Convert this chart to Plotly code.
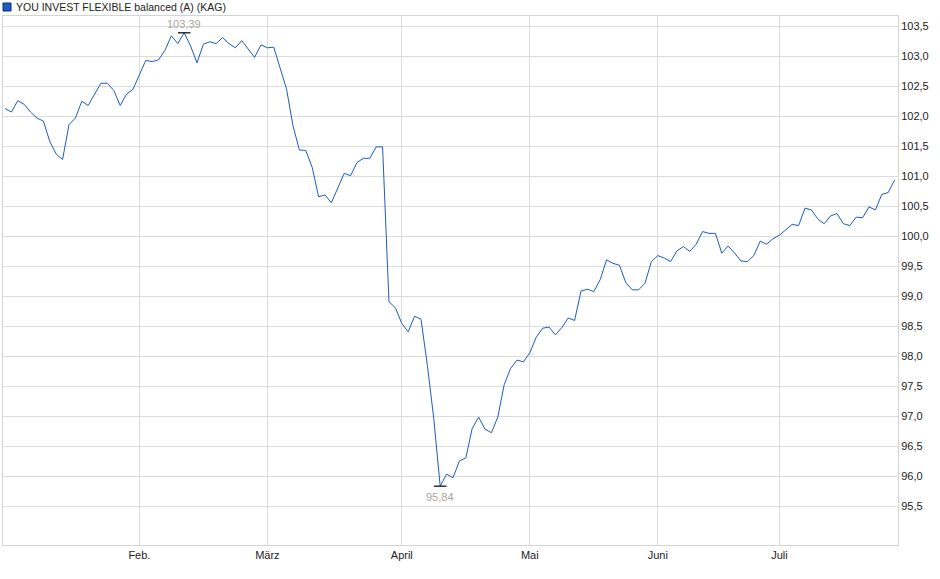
import plotly.graph_objects as go

# Kursverlauf (Handelstage Jan. - Juli)
values = [
    102.13, 102.07, 102.26, 102.20, 102.07, 101.97, 101.92, 101.58, 101.37, 101.28,
    101.86, 101.97, 102.25, 102.18, 102.37, 102.55, 102.55, 102.43, 102.18, 102.37,
    102.45, 102.70, 102.93, 102.91, 102.94, 103.10, 103.34, 103.21, 103.39, 103.17,
    102.89, 103.20, 103.24, 103.21, 103.31, 103.21, 103.14, 103.26, 103.12, 102.98,
    103.19, 103.14, 103.15, 102.78, 102.45, 101.84, 101.44, 101.43, 101.15, 100.66,
    100.69, 100.56, 100.80, 101.05, 101.01, 101.23, 101.30, 101.30, 101.49, 101.49,
    98.91, 98.81, 98.55, 98.41, 98.67, 98.62, 97.85, 96.96, 95.84, 96.04,
    95.98, 96.26, 96.31, 96.80, 96.99, 96.79, 96.73, 96.99, 97.53, 97.80,
    97.94, 97.91, 98.06, 98.32, 98.47, 98.49, 98.36, 98.48, 98.64, 98.60,
    99.09, 99.12, 99.08, 99.28, 99.61, 99.55, 99.52, 99.23, 99.11, 99.11,
    99.22, 99.58, 99.68, 99.64, 99.58, 99.76, 99.83, 99.75, 99.87, 100.08,
    100.05, 100.05, 99.72, 99.84, 99.72, 99.59, 99.58, 99.68, 99.92, 99.87,
    99.96, 100.02, 100.11, 100.20, 100.18, 100.47, 100.44, 100.29, 100.21, 100.34,
    100.38, 100.21, 100.18, 100.32, 100.31, 100.49, 100.44, 100.70, 100.73, 100.94,
]
days = list(range(len(values)))

# erster Handelstag je Monat
month_labels = ['Feb.', 'März', 'April', 'Mai', 'Juni', 'Juli']
month_start = [21, 41, 62, 82, 102, 121]

y_ticks = [95.5 + 0.5 * k for k in range(17)]

name = 'YOU INVEST FLEXIBLE balanced (A) (KAG)'
blue = '#1c5bc2'

i_max = values.index(max(values))
i_min = values.index(min(values))

fig = go.Figure()
fig.add_trace(go.Scatter(x=days, y=values, mode='lines', name=name,
                         line=dict(color=blue, width=1), showlegend=False))
# Markierung Hoch/Tief
fig.add_trace(go.Scatter(x=[i_max, i_min], y=[values[i_max], values[i_min]], mode='markers',
                         marker=dict(symbol='line-ew', size=9, line=dict(color='black', width=1.2)),
                         showlegend=False, hoverinfo='skip'))

fig.add_annotation(x=i_max, y=values[i_max], text=f'{values[i_max]:.2f}'.replace('.', ','),
                   showarrow=False, yshift=9, font=dict(size=11, color='#aaa498'))
fig.add_annotation(x=i_min, y=values[i_min], text=f'{values[i_min]:.2f}'.replace('.', ','),
                   showarrow=False, yshift=-11, font=dict(size=11, color='#aaa498'))

# Legende oben links
fig.add_shape(type='rect', xref='paper', yref='paper', xsizemode='pixel', ysizemode='pixel',
              xanchor=0, yanchor=1, x0=0, x1=8, y0=5, y1=13,
              fillcolor=blue, line=dict(color='#0c2a70', width=1))
fig.add_annotation(xref='paper', yref='paper', x=0, y=1, xshift=11, yshift=9,
                   xanchor='left', yanchor='middle', showarrow=False, text=name,
                   font=dict(size=10.5, color='#222222'))

fig.update_xaxes(range=[-0.31, 139.53], tickvals=month_start, ticktext=month_labels,
                 showgrid=True, gridcolor='#dcdcdc', gridwidth=1, zeroline=False,
                 showline=True, linecolor='#d4d4d4', mirror=True, ticks='',
                 tickfont=dict(size=11, color='#222222'))
fig.update_yaxes(range=[94.86, 103.67], side='right', tickvals=y_ticks, tickformat='.1f',
                 showgrid=True, gridcolor='#dcdcdc', gridwidth=1, zeroline=False,
                 showline=True, linecolor='#d4d4d4', mirror=True, ticks='',
                 tickfont=dict(size=11, color='#222222'))

fig.update_layout(width=940, height=579, margin=dict(l=3, r=42, t=16, b=34),
                  plot_bgcolor='white', paper_bgcolor='white', separators=',.',
                  font=dict(family='Liberation Sans, Arial, sans-serif', size=11))

# Seitenrand entfernen, damit das Diagramm bei (0,0) beginnt
fig.write_html('out.html', config={'displayModeBar': False},
               post_script="document.body.style.margin='0';")
